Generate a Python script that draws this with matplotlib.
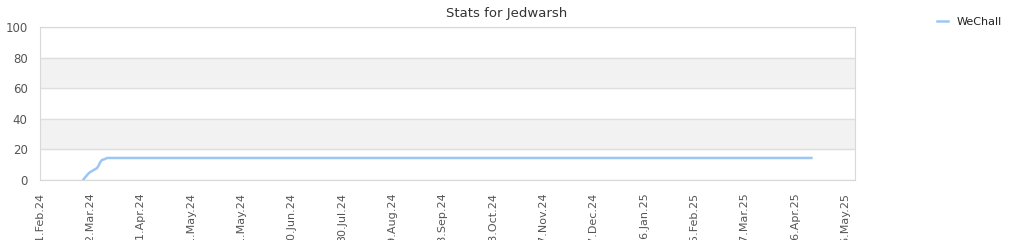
import pandas as pd
import matplotlib
matplotlib.use("Agg")
import matplotlib.pyplot as plt
import matplotlib.dates as mdates

# Fortschritt auf WeChall (Prozent)
dates = ['2024-02-27', '2024-03-01', '2024-03-02', '2024-03-04', '2024-03-06',
         '2024-03-07', '2024-03-08', '2024-03-09', '2024-03-11', '2024-03-12',
         '2025-05-06']
percent = [0.5, 4.4, 5.2, 6.5, 7.8, 9.5, 11.8, 13.1, 13.8, 14.4, 14.4]
series_name = 'WeChall'
title = 'Stats for Jedwarsh'

dates = pd.to_datetime(dates)
ticks = pd.date_range('2024-02-01', periods=17, freq='30D')

fig = plt.figure(figsize=(10.24, 2.4), dpi=100)
ax = fig.add_axes([40 / 1024, 0.25, 815 / 1024, 0.6375])

# bands and grid
for lo, hi in [(20, 40), (60, 80)]:
    ax.axhspan(lo, hi, color='#f2f2f2', zorder=0)
for y in range(0, 101, 20):
    ax.axhline(y, color='#dedede', lw=1, zorder=1)

ax.plot(dates, percent, color='#9cc6f4', lw=1.8, label=series_name, zorder=3)

ax.set_xlim(pd.Timestamp('2024-02-01'), pd.Timestamp('2025-06-01'))
ax.set_ylim(0, 100)
ax.set_yticks(range(0, 101, 20))
ax.set_xticks(ticks)
ax.xaxis.set_major_formatter(mdates.DateFormatter('%d.%b.%y'))
ax.tick_params(axis='x', length=0, pad=9, labelsize=8, labelcolor='#555555', rotation=90)
ax.tick_params(axis='y', length=0, pad=9, labelsize=8.5, labelcolor='#555555')
ax.set_ylabel('Percentage', fontsize=8, color='#333333', labelpad=6)

for s in ax.spines.values():
    s.set_color('#d8d8d8')

fig.text(0.495, 0.945, title, ha='center', va='center', fontsize=9.5, color='#333333')
fig.legend(loc='upper left', bbox_to_anchor=(0.905, 0.97), frameon=False,
           handlelength=1.0, fontsize=8, labelcolor='#222222')

fig.savefig('out.png', dpi=100)
